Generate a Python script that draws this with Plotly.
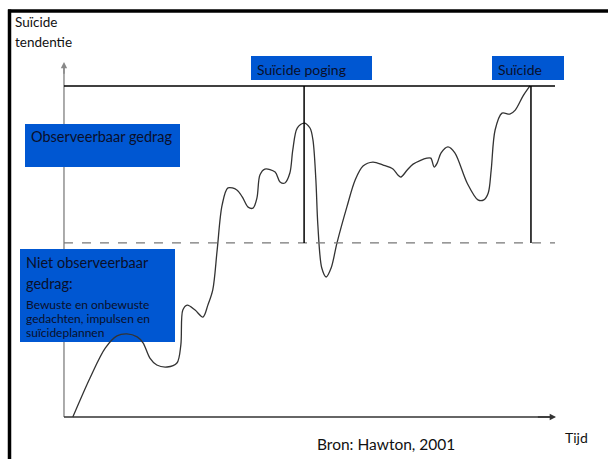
import plotly.graph_objects as go

# ---- data (time in arbitrary units 0-100, tendency 0-100) ----
tijd = [1.8, 5.3, 8.4, 10.8, 12.8, 14.9, 16.1, 17.5, 18.9, 21.0, 23.0, 23.8, 24.2, 25.1, 26.7,
        28.3, 29.3, 30.3, 31.2, 32.2, 33.4, 35.2, 36.3, 37.5, 38.5, 39.3, 39.9, 40.9, 43.0,
        44.0, 45.0, 46.0, 46.6, 47.5, 48.9, 50.1, 50.7, 51.3, 51.7, 52.5, 53.4, 54.4, 55.6,
        57.6, 59.3, 60.9, 62.9, 65.0, 67.0, 68.0, 68.6, 69.9, 71.1, 73.9, 74.7, 75.4, 76.0,
        76.8, 78.2, 79.6, 82.1, 84.3, 85.5, 86.4, 87.0, 87.8, 89.2, 90.8, 91.9, 93.5, 94.9]
tendentie = [0.0, 11.8, 20.8, 24.5, 25.1, 24.2, 22.4, 17.8, 15.7, 15.1, 16.3, 21.8, 32.3, 33.8, 32.3,
             30.2, 33.8, 38.4, 50.5, 64.0, 69.2, 68.6, 66.5, 63.4, 63.1, 66.2, 73.1, 74.9, 74.0,
             71.0, 70.7, 73.7, 80.7, 87.3, 88.8, 87.3, 83.7, 71.6, 58.0, 45.0, 42.3, 45.0, 52.6,
             63.4, 71.6, 75.8, 77.0, 76.1, 74.9, 73.1, 72.5, 74.6, 76.4, 78.2, 78.2, 75.5, 76.7,
             79.8, 81.6, 79.8, 70.7, 65.6, 65.6, 67.7, 74.6, 86.7, 91.8, 91.5, 92.7, 97.0, 100.0]

drempel = 52.6          # observable / non-observable threshold
top_niveau = 100.0      # top line
poging_t = 48.9         # suicide attempt
suicide_t = 95.1        # suicide
x_einde = 100.0

W, H = 608, 459
XR = [-13.03, 110.79]
YR = [-12.69, 125.98]

def px(xp):
    return XR[0] + xp / W * (XR[1] - XR[0])

def py(yp):
    return YR[1] - yp / H * (YR[1] - YR[0])

fig = go.Figure()
fig.add_trace(go.Scatter(x=tijd, y=tendentie, mode="lines",
                         line=dict(color="#333333", width=1.3, shape="spline", smoothing=0.9),
                         hoverinfo="skip", showlegend=False))

y_top = py(62)
x_right = px(556)

shapes = []
# axis lines (below the blue boxes)
shapes.append(dict(type="line", xref="x", yref="y", x0=0, x1=0, y0=0, y1=y_top - 1.5,
                   line=dict(color="#888888", width=1.4), layer="below"))
shapes.append(dict(type="line", xref="x", yref="y", x0=0, x1=x_right - 0.5, y0=0, y1=0,
                   line=dict(color="#333333", width=1.4), layer="below"))
# top line
shapes.append(dict(type="line", xref="x", yref="y", x0=0, x1=x_einde, y0=top_niveau, y1=top_niveau,
                   line=dict(color="#000000", width=1.5)))
# dashed threshold
shapes.append(dict(type="line", xref="x", yref="y", x0=0, x1=x_einde, y0=drempel, y1=drempel,
                   line=dict(color="#777777", width=1.3, dash="dash")))
# verticals
for t in (poging_t, suicide_t):
    shapes.append(dict(type="line", xref="x", yref="y", x0=t, x1=t, y0=drempel, y1=top_niveau,
                       line=dict(color="#000000", width=1.5)))
# frame
shapes.append(dict(type="line", xref="paper", yref="paper", x0=8 / W, x1=1, y0=1 - 11 / H, y1=1 - 11 / H,
                   line=dict(color="#000000", width=3.5)))
shapes.append(dict(type="line", xref="paper", yref="paper", x0=9.5 / W, x1=9.5 / W, y0=0, y1=1 - 9.5 / H,
                   line=dict(color="#000000", width=3.5)))

BLUE = "#0057D2"
boxes = [(25, 124, 180, 167), (251, 56, 372, 80), (492, 56, 564, 80), (20, 249, 175, 342)]
for (a, b, c, d) in boxes:
    shapes.append(dict(type="rect", xref="x", yref="y", x0=px(a), x1=px(c), y0=py(d), y1=py(b),
                       line=dict(width=0), fillcolor=BLUE, layer="below"))

fig.update_layout(shapes=shapes)

TXT = "#0a0f2a"
FONT = "Lato"
ann = []
def label(text, xp, yp, size, color=TXT, xanchor="left"):
    ann.append(dict(x=px(xp), y=py(yp), xref="x", yref="y", text=text, showarrow=False,
                    xanchor=xanchor, yanchor="middle", font=dict(family=FONT, size=size, color=color)))

label("Observeerbaar gedrag", 29, 136, 14.5)
label("Suïcide poging", 255, 69, 14)
label("Suïcide", 496, 69, 14)
label("Niet observeerbaar", 24, 262, 14.5)
label("gedrag:", 24, 283, 14.5)
label("Bewuste en onbewuste", 24, 304, 12)
label("gedachten, impulsen en", 24, 318, 12)
label("suïcideplannen", 24, 332, 12)
label("Suïcide", 13, 22, 13.5, color="#111111")
label("tendentie", 13, 42, 13.5, color="#111111")
label("Bron: Hawton, 2001", 386, 444, 15.5, color="#111111", xanchor="center")
label("Tijd", 563, 437, 14, color="#111111")

# arrow heads only (short arrows at the axis tips)
ann.append(dict(x=0, y=y_top, ax=0, ay=y_top - 4, xref="x", yref="y", axref="x", ayref="y", text="",
                showarrow=True, arrowhead=2, arrowsize=0.9, arrowwidth=1.4, arrowcolor="#888888"))
ann.append(dict(x=x_right, y=0, ax=x_right - 4, ay=0, xref="x", yref="y", axref="x", ayref="y", text="",
                showarrow=True, arrowhead=2, arrowsize=0.9, arrowwidth=1.4, arrowcolor="#333333"))

fig.update_layout(annotations=ann)
fig.update_layout(width=W, height=H, margin=dict(l=0, r=0, t=0, b=0),
                  paper_bgcolor="white", plot_bgcolor="white",
                  xaxis=dict(range=XR, visible=False, showgrid=False, zeroline=False, fixedrange=True),
                  yaxis=dict(range=YR, visible=False, showgrid=False, zeroline=False, fixedrange=True))

fig.write_html("out.html", config={"displayModeBar": False},
               post_script="document.body.style.margin='0';document.body.style.overflow='hidden';")
